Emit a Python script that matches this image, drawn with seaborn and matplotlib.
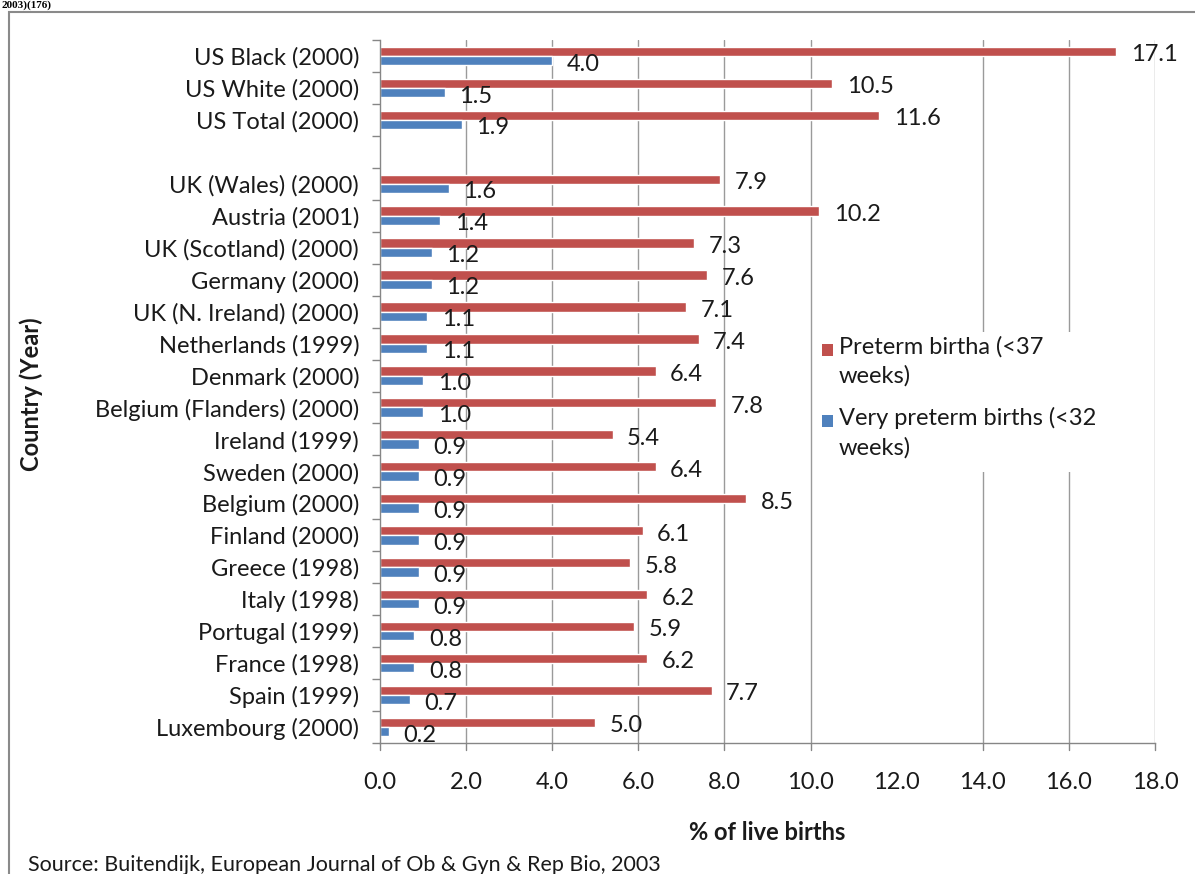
import numpy as np
import pandas as pd
import matplotlib
matplotlib.use("Agg")
import matplotlib.pyplot as plt
from matplotlib.patches import Rectangle
from matplotlib.lines import Line2D
import seaborn as sns

# ---- data -------------------------------------------------------------
countries = [
    "US Black (2000)", "US White (2000)", "US Total (2000)", "",
    "UK (Wales) (2000)", "Austria (2001)", "UK (Scotland) (2000)",
    "Germany (2000)", "UK (N. Ireland) (2000)", "Netherlands (1999)",
    "Denmark (2000)", "Belgium (Flanders) (2000)", "Ireland (1999)",
    "Sweden (2000)", "Belgium (2000)", "Finland (2000)", "Greece (1998)",
    "Italy (1998)", "Portugal (1999)", "France (1998)", "Spain (1999)",
    "Luxembourg (2000)",
]
preterm = [17.1, 10.5, 11.6, np.nan, 7.9, 10.2, 7.3, 7.6, 7.1, 7.4, 6.4,
           7.8, 5.4, 6.4, 8.5, 6.1, 5.8, 6.2, 5.9, 6.2, 7.7, 5.0]
very_preterm = [4.0, 1.5, 1.9, np.nan, 1.6, 1.4, 1.2, 1.2, 1.1, 1.1, 1.0,
                1.0, 0.9, 0.9, 0.9, 0.9, 0.9, 0.9, 0.8, 0.8, 0.7, 0.2]
series_names = ["Preterm birtha (<37\nweeks)", "Very preterm births (<32\nweeks)"]
series_colors = ["#C0504D", "#4F81BD"]
x_ticks = [0, 2, 4, 6, 8, 10, 12, 14, 16, 18]

df = pd.DataFrame({
    "country": countries * 2,
    "series": [series_names[0]] * len(countries) + [series_names[1]] * len(countries),
    "value": preterm + very_preterm,
})

# ---- styling -----------------------------------------------------------
sns.set_theme(style="white")
FONT = ["Lato", "DejaVu Sans"]
plt.rcParams["font.family"] = FONT
TXT = "#1a1a1a"
GRID = "#9a9a9a"
AXC = "#868686"
FS = 17

fig = plt.figure(figsize=(11.95, 8.74), dpi=100)
ax = fig.add_axes([380 / 1195, 1 - 743 / 874, 775 / 1195, 703 / 874])

sns.barplot(
    data=df, y="country", x="value", hue="series",
    order=countries, hue_order=series_names,
    palette=series_colors, orient="h", width=0.58,
    saturation=1, errorbar=None, legend=False, ax=ax,
)

ax.set_xlim(0, 18)
ax.set_ylim(len(countries) - 0.5, -0.5)

# vertical gridlines (no line at 12)
for xv in x_ticks[1:]:
    if xv == 12:
        continue
    ax.axvline(xv, color=GRID, lw=1.0, zorder=0)

# value labels next to each bar
for cont, vals in zip(ax.containers, [preterm, very_preterm]):
    for patch in cont.patches:
        yc = patch.get_y() + patch.get_height() / 2
        v = vals[int(round(yc))]
        if np.isnan(v):
            continue
        ax.annotate(f"{v:.1f}", xy=(v, yc), xytext=(10.5, -2.5),
                    textcoords="offset points", ha="left", va="center",
                    fontsize=FS, color=TXT)

# axes, ticks
for side in ["top", "right"]:
    ax.spines[side].set_visible(False)
for side in ["left", "bottom"]:
    ax.spines[side].set_color(AXC)
    ax.spines[side].set_linewidth(1.0)

ax.set_xticks(x_ticks)
ax.set_xticklabels([f"{t:.1f}" for t in x_ticks], fontsize=FS, color=TXT)
ax.tick_params(axis="x", length=0, pad=21)
# x tick marks below the axis (12 has none)
for xv in x_ticks:
    if xv == 12:
        continue
    ax.add_line(Line2D([xv, xv], [0, -0.01], transform=ax.get_xaxis_transform(),
                       color=AXC, lw=1.0, clip_on=False))

ax.set_yticks(range(len(countries)))
ax.set_yticklabels(countries, fontsize=FS, color=TXT)
ax.set_yticks(np.arange(-0.5, len(countries), 1.0), minor=True)
ax.tick_params(axis="y", which="major", length=0, pad=15)
ax.tick_params(axis="y", which="minor", length=6, width=1.0, color=AXC, left=True)

ax.set_xlabel("% of live births", fontsize=FS, fontweight="bold", color=TXT, labelpad=20)
ax.set_ylabel("")
fig.text(31 / 1195, 1 - 394 / 874, "Country (Year)", rotation=90, ha="center",
         va="center", fontsize=FS, fontweight="bold", color=TXT)

# legend: white box with coloured squares and wrapped labels
fig.add_artist(Rectangle((815 / 1195, 1 - 472 / 874), 292 / 1195, 140 / 874,
                         transform=fig.transFigure, facecolor="white",
                         edgecolor="none", zorder=3))
for name, color, ytop in zip(series_names, series_colors, [336, 407]):
    fig.add_artist(Rectangle((822 / 1195, 1 - (ytop + 20) / 874), 11 / 1195, 12 / 874,
                             transform=fig.transFigure, facecolor=color,
                             edgecolor="none", zorder=4))
    fig.text(839 / 1195, 1 - ytop / 874, name, ha="left", va="top", fontsize=FS,
             color=TXT, linespacing=1.45, zorder=4)

# surrounding frame, heading fragment and source note
fig.add_artist(Rectangle((9 / 1195, -0.05), 1.2, 1 - 12 / 874 + 0.05,
                         transform=fig.transFigure, fill=False,
                         edgecolor="#8a8a8a", lw=1.5))
fig.text(2 / 1195, 1.0, "2003)(176)", ha="left", va="top", fontsize=8,
         fontweight="bold", family=["Liberation Serif", "DejaVu Serif"], color="black")
fig.text(28 / 1195, 1 - 865 / 874, "Source: Buitendijk, European Journal of Ob & Gyn & Rep Bio, 2003",
         ha="left", va="center", fontsize=15.5, color=TXT)

fig.savefig("out.png", dpi=100, facecolor="white")
